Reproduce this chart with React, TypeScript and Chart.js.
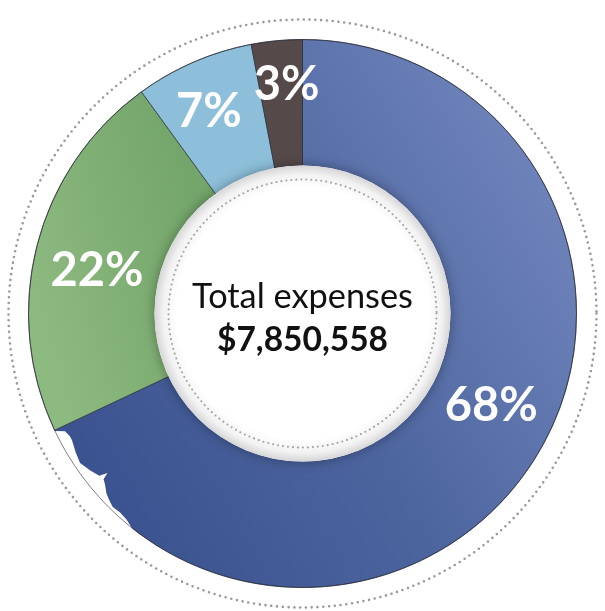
import React, { useEffect, useRef } from "react";
import { Chart, registerables } from "chart.js";

Chart.register(...registerables);

const categories = ["Programs", "Fundraising", "Administration", "Other"];
const shares = [68, 22, 7, 3];
const percentLabels = ["68%", "22%", "7%", "3%"];
const totalTitle = "Total expenses";
const totalValue = "$7,850,558";

// label placement inside each slice: fraction of slice angle, radius in px
const labelPlacement = [
  { frac: 0.474, r: 210 },
  { frac: 0.467, r: 210 },
  { frac: 0.44, r: 222 },
  { frac: 0.63, r: 229 },
];

// decorative torn edge on the outer rim (canvas angle in degrees, depth in px)
const tearOutline = [
  [154.6, 0], [153.6, 9], [152.2, 11], [151.2, 11], [148.5, 8], [146.1, 6],
  [143.5, 10], [141.4, 14], [140.7, 22], [140.2, 15], [139.2, 13], [137.5, 8],
  [135.8, 5], [134.5, 3], [132.5, 4], [130.5, 3], [128.5, 0],
];

const OUTER_R = 274;
const DISC_R = 148;

function fitFont(ctx: CanvasRenderingContext2D, text: string, weight: string, family: string, width: number) {
  ctx.font = `${weight} 100px ${family}`;
  const w = ctx.measureText(text).width;
  return (100 * width) / w;
}

const decorPlugin = {
  id: "decor",
  beforeDatasetsDraw(chart: any) {
    const meta = chart.getDatasetMeta(0);
    const arc = meta.data[0];
    if (!arc) return;
    const { x, y } = arc;
    const ctx = chart.ctx as CanvasRenderingContext2D;
    ctx.save();
    ctx.beginPath();
    ctx.arc(x, y, 294, 0, Math.PI * 2);
    ctx.setLineDash([0, 5.8]);
    ctx.lineCap = "round";
    ctx.lineWidth = 2.6;
    ctx.strokeStyle = "#9a9a9a";
    ctx.stroke();
    ctx.restore();
  },
  afterDatasetsDraw(chart: any) {
    const meta = chart.getDatasetMeta(0);
    const arcs = meta.data;
    if (!arcs.length) return;
    const { x, y } = arcs[0];
    const R = arcs[0].outerRadius;
    const ctx = chart.ctx as CanvasRenderingContext2D;
    ctx.save();

    // torn rim
    ctx.beginPath();
    tearOutline.forEach(([deg, d], i) => {
      const a = (deg * Math.PI) / 180;
      const px = x + Math.cos(a) * (R - d);
      const py = y + Math.sin(a) * (R - d);
      if (i === 0) ctx.moveTo(px, py);
      else ctx.lineTo(px, py);
    });
    const aEnd = (tearOutline[tearOutline.length - 1][0] * Math.PI) / 180;
    const aStart = (tearOutline[0][0] * Math.PI) / 180;
    ctx.arc(x, y, R + 2, aEnd, aStart, false);
    ctx.closePath();
    ctx.fillStyle = "#ffffff";
    ctx.fill();

    // thin outer edge line
    ctx.beginPath();
    ctx.arc(x, y, R, 0, Math.PI * 2);
    ctx.lineWidth = 0.8;
    ctx.strokeStyle = "rgba(40,40,55,0.75)";
    ctx.stroke();

    // white disc with shadow
    ctx.save();
    ctx.shadowColor = "rgba(0,0,0,0.35)";
    ctx.shadowBlur = 12;
    ctx.beginPath();
    ctx.arc(x, y, DISC_R, 0, Math.PI * 2);
    ctx.fillStyle = "#ffffff";
    ctx.fill();
    ctx.restore();
    const g = ctx.createRadialGradient(x, y, DISC_R - 22, x, y, DISC_R);
    g.addColorStop(0, "rgba(255,255,255,1)");
    g.addColorStop(0.6, "rgba(242,242,242,1)");
    g.addColorStop(1, "rgba(214,214,216,1)");
    ctx.beginPath();
    ctx.arc(x, y, DISC_R, 0, Math.PI * 2);
    ctx.fillStyle = g;
    ctx.fill();

    // inner dotted circle
    ctx.beginPath();
    ctx.arc(x, y, 134, 0, Math.PI * 2);
    ctx.setLineDash([0, 5]);
    ctx.lineCap = "round";
    ctx.lineWidth = 2.1;
    ctx.strokeStyle = "#a2a2a2";
    ctx.stroke();
    ctx.setLineDash([]);

    // center texts
    ctx.fillStyle = "#111111";
    ctx.textAlign = "center";
    ctx.textBaseline = "alphabetic";
    let s = fitFont(ctx, totalTitle, "400", "Lato", 221);
    ctx.font = `400 ${s}px Lato`;
    ctx.fillText(totalTitle, x, y - 6);
    s = fitFont(ctx, totalValue, "700", "Lato", 171);
    ctx.font = `700 ${s}px Lato`;
    ctx.fillText(totalValue, x, y + 37);

    // percentage labels
    ctx.fillStyle = "#ffffff";
    ctx.textBaseline = "middle";
    ctx.font = "700 47px Lato";
    arcs.forEach((a: any, i: number) => {
      const p = labelPlacement[i];
      const ang = a.startAngle + (a.endAngle - a.startAngle) * p.frac;
      const lx = x + Math.cos(ang) * p.r;
      const ly = y + Math.sin(ang) * p.r;
      ctx.fillText(percentLabels[i], lx, ly);
    });
    ctx.restore();
  },
};

export default function App() {
  const ref = useRef<HTMLCanvasElement | null>(null);
  useEffect(() => {
    const canvas = ref.current;
    if (!canvas) return;
    const ctx = canvas.getContext("2d")!;
    const blue = ctx.createLinearGradient(90, 520, 580, 230);
    blue.addColorStop(0, "#39518e");
    blue.addColorStop(0.5, "#4d659f");
    blue.addColorStop(1, "#6e83ba");
    const green = ctx.createLinearGradient(30, 300, 210, 250);
    green.addColorStop(0, "#8dba80");
    green.addColorStop(1, "#74a56a");
    const chart = new Chart(canvas, {
      type: "doughnut",
      data: {
        labels: categories,
        datasets: [
          {
            data: shares,
            backgroundColor: [blue, green, "#8dbfda", "#554a49"],
            borderColor: "rgba(35,40,50,0.8)",
            borderWidth: 0.8,
            radius: OUTER_R,
            cutout: 120,
          },
        ],
      },
      options: {
        responsive: false,
        animation: false,
        devicePixelRatio: 1,
        layout: { padding: { top: 16 } },
        plugins: {
          legend: { display: false },
          tooltip: { enabled: false },
        },
      },
      plugins: [decorPlugin],
    });
    return () => chart.destroy();
  }, []);
  return (
    <div style={{ position: "fixed", left: 0, top: 0, width: 605, height: 611, background: "#fff" }}>
      <canvas ref={ref} width={605} height={611} style={{ width: 605, height: 611, display: "block" }} />
    </div>
  );
}
